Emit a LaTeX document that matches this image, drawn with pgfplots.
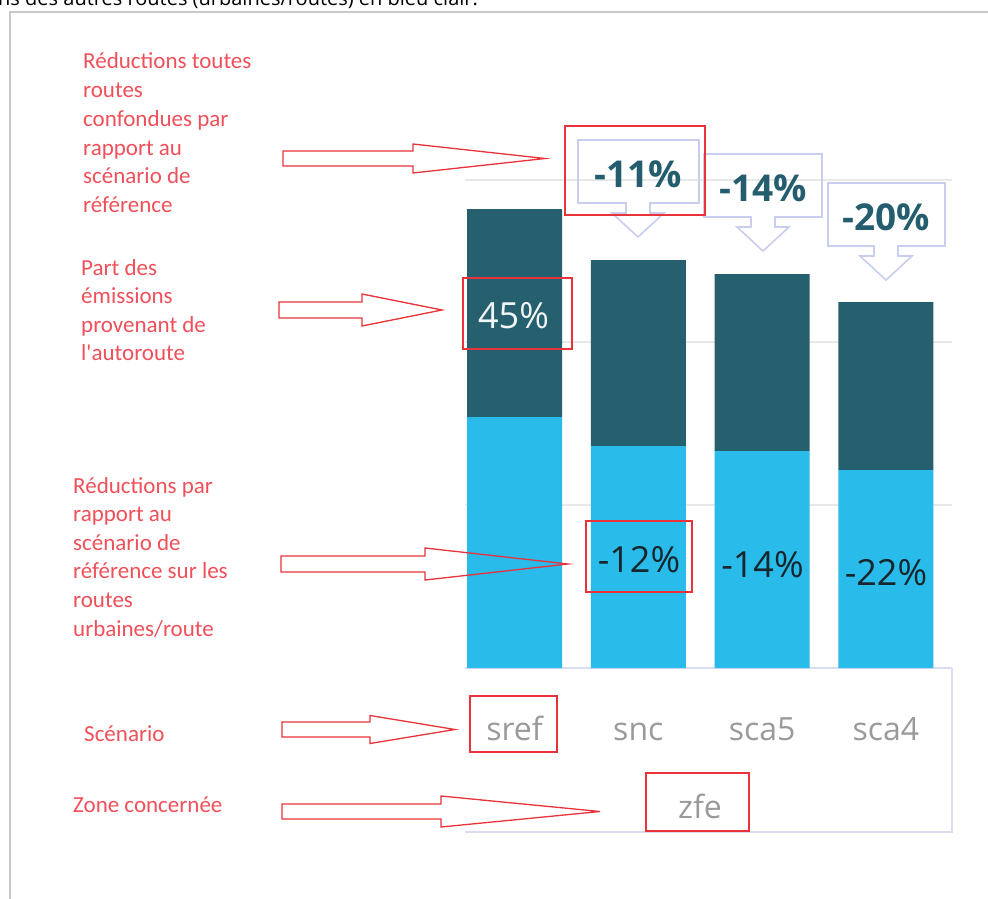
\documentclass[border=0pt]{standalone}
\usepackage{fontspec}
\usepackage{pgfplots}
\pgfplotsset{compat=1.18}
\setmainfont{Open Sans}
\newfontfamily\calibri{Carlito}
\definecolor{darkb}{HTML}{26606F}
\definecolor{lightb}{HTML}{29BBE9}
\definecolor{annred}{HTML}{E8333A}
\definecolor{anntext}{HTML}{F0505A}
\definecolor{callc}{HTML}{C9CEEE}
\definecolor{gridc}{HTML}{E8E8E8}
\definecolor{axl}{HTML}{DADDF0}
\definecolor{framec}{HTML}{C8C8C8}
\definecolor{catc}{HTML}{9A9A9A}
\definecolor{calltext}{HTML}{245E6E}
\definecolor{bartext}{HTML}{16262C}
\newcommand\callout[6]{%
  \draw[callc,line width=1.6pt,line join=miter] (#1,-#3) -- (#2,-#3) -- (#2,-#4) -- (#5+12,-#4) -- (#5+12,-#4-10) -- (#5+26,-#4-10) -- (#5,-#6) -- (#5-26,-#4-10) -- (#5-12,-#4-10) -- (#5-12,-#4) -- (#1,-#4) -- cycle;}
\newcommand\redarrow[7]{% x0 x1 yc h H xt
  \draw[annred,line width=1.3pt] (#1,-#3+#4) -- (#2,-#3+#4) -- (#2,-#3+#5) -- (#6,-#3) -- (#2,-#3-#5) -- (#2,-#3-#4) -- (#1,-#3-#4) -- cycle;}
\begin{document}
\begin{tikzpicture}[x=1pt,y=1pt]
\clip (0,0) rectangle (988,-899);
\fill[white] (0,0) rectangle (988,-899);
\node[anchor=base west, inner sep=0, font=\fontsize{20}{24}\selectfont] at (-2,-6) {ns des autres routes (urbaines/routes) en bleu clair.};
\draw[framec, line width=1.5pt] (10,-905) -- (10,-12) -- (995,-12);

\begin{axis}[at={(465pt,-668pt)}, anchor=south west, scale only axis,
  width=487pt, height=488pt, xmin=-0.4, xmax=3.534, ymin=0, ymax=488,
  ybar stacked, bar width=95pt,
  axis line style={draw=none}, tick style={draw=none},
  ytick={163,326,488}, yticklabels={}, ymajorgrids,
  grid style={color=gridc, line width=1.2pt},
  xtick=data, xticklabels={sref,snc,sca5,sca4},
  x tick label style={anchor=base, yshift=-72pt, font=\fontsize{32}{36}\selectfont, text=catc},
  clip=false]
\addplot[fill=lightb, draw=none] coordinates {(0,251) (1,222) (2,217) (3,198)};
\addplot[fill=darkb, draw=none] coordinates {(0,208) (1,186) (2,177) (3,168)};
\draw[axl, line width=1.5pt] (rel axis cs:0,0) -- (rel axis cs:1,0);
\end{axis}

\node[font=\fontsize{36}{40}\selectfont, text=white!94!darkb] at (513.5,-316) {45\%};
\node[font=\fontsize{36}{40}\selectfont, text=bartext] at (639,-560) {-12\%};
\node[font=\fontsize{36}{40}\selectfont, text=bartext] at (762.5,-564.5) {-14\%};
\node[font=\fontsize{36}{40}\selectfont, text=bartext] at (886,-573) {-22\%};

\draw[axl, line width=1.5pt] (952,-668) -- (952,-832) -- (465,-832);
\node[anchor=base, font=\fontsize{32}{36}\selectfont, text=catc] at (700,-818) {zfe};

\callout{578}{699}{140}{203}{638}{237}
\callout{704}{822}{154}{217}{763}{251}
\callout{828}{945}{183}{246}{886}{280}
\node[font=\bfseries\fontsize{37}{42}\selectfont, text=calltext] at (638,-174.5) {-11\%};
\node[font=\bfseries\fontsize{37}{42}\selectfont, text=calltext] at (763,-188.5) {-14\%};
\node[font=\bfseries\fontsize{37}{42}\selectfont, text=calltext] at (886,-217.5) {-20\%};

\begin{scope}[annred, line width=1.3pt]
\draw (565,-126) rectangle (705,-215);
\draw (463,-278) rectangle (572,-349);
\draw (586,-521) rectangle (692,-592);
\draw (470,-696) rectangle (557,-752);
\draw (646,-773) rectangle (749,-831);
\end{scope}

\redarrow{283}{413}{158.5}{7.5}{14.5}{545}{}
\redarrow{279}{362}{310}{8}{16}{442}{}
\redarrow{281}{425}{564}{8}{16}{568}{}
\redarrow{282}{370}{729.5}{7.5}{14}{455}{}
\redarrow{282}{441}{811.5}{7.5}{15.5}{600}{}

\tikzset{redtxt/.style={anchor=base west, inner sep=0, text=anntext, font=\calibri\fontsize{23}{26}\selectfont}}
\foreach \t [count=\i from 0] in {Réductions toutes, routes, confondues par, rapport au, scénario de, référence}
  \node[redtxt] at (83,{-69-28.7*\i}) {\t};
\foreach \t [count=\i from 0] in {Part des, émissions, provenant de, l'autoroute}
  \node[redtxt] at (81,{-275-28.5*\i}) {\t};
\foreach \t [count=\i from 0] in {Réductions par, rapport au, scénario de, référence sur les, routes, urbaines/route}
  \node[redtxt] at (73,{-493-28.6*\i}) {\t};
\node[redtxt] at (84,-741) {Scénario};
\node[redtxt] at (73,-812) {Zone concernée};
\end{tikzpicture}
\end{document}
